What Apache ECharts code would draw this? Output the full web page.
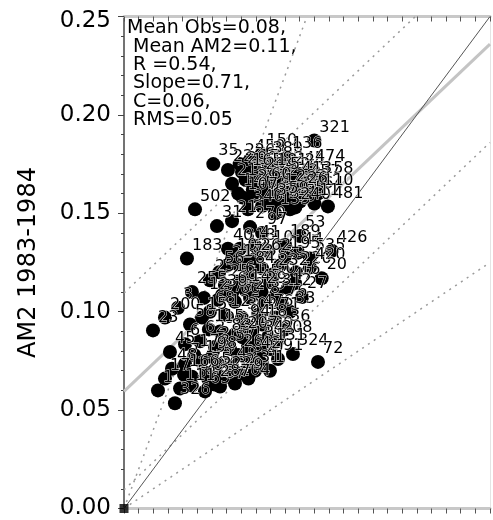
<!DOCTYPE html>
<html>
<head>
<meta charset="utf-8">
<script src="https://cdn.jsdelivr.net/npm/echarts@6/dist/echarts.min.js"></script>
<style>html,body{margin:0;padding:0;background:#fff}#c{width:493px;height:520px}</style>
</head>
<body>
<div id="c"></div>
<script>
// Observed (x) values, model AM2 (y) values, station ids
const obs = [0.130,0.094,0.086,0.079,0.061,0.071,0.089,0.098,0.105,0.113,0.120,0.127,0.083,0.0915,0.0997,0.1086,0.1175,0.1236,0.1325,0.078,0.0874,0.0963,0.1052,0.1148,0.1257,0.1393,0.0943,0.0847,0.1134,
0.0485,0.0635,0.0738,0.0861,0.1031,0.0943,0.1202,0.0792,0.0895,0.0984,0.110,0.1189,0.142,0.127,0.043,
0.0827,0.0704,0.0943,0.1066,0.1175,0.127,0.135,0.0587,0.069,0.0792,0.0895,0.0997,0.112,0.1216,0.1168,0.0464,0.0546,0.0642,0.0758,0.0861,0.0963,0.1079,0.0587,0.069,0.0806,0.0915,0.1031,0.1134,
0.0369,0.028,0.0198,0.0451,0.0533,0.0656,0.0758,0.0874,0.0984,0.110,0.1045,0.0314,0.0417,0.0519,0.0622,0.0724,0.0847,0.0943,0.1154,0.1325,0.0417,0.0519,0.0642,0.0738,0.0847,0.0943,0.1052,0.0328,0.0464,0.0574,0.0669,0.0792,0.0895,0.0997,0.0232,0.0348,0.0464,0.0553,0.0383,0.028,0.0656,0.0758,
0.0806,0.1113,0.0738,0.1202,0.1325,0.071,0.067,0.0827,0.0943,0.0738,
0.084,0.093,0.101,0.110,0.118,0.088,0.097,0.106,0.114,0.122,0.081,0.101,0.109,0.117,0.130,
0.078,0.086,0.102,0.074,0.083,0.094,0.104,0.065,0.110,0.090,
0.058,0.070,0.081,0.092,0.048,0.060,0.078,0.090,0.100,0.056,0.070,0.085,0.041,0.062];
const am2 = [0.187,0.180,0.177,0.175,0.175,0.172,0.172,0.176,0.1735,0.171,0.170,0.172,0.167,0.165,0.167,0.165,0.1635,0.1645,0.166,0.160,0.1585,0.160,0.157,0.158,0.1585,0.1535,0.1535,0.152,0.152,
0.152,0.1435,0.146,0.143,0.150,0.140,0.1385,0.132,0.1335,0.131,0.134,0.130,0.131,0.127,0.127,
0.125,0.1235,0.122,0.1235,0.120,0.1225,0.117,0.116,0.1135,0.115,0.1135,0.115,0.112,0.1075,0.1145,0.110,0.107,0.106,0.105,0.107,0.105,0.1035,0.100,0.0985,0.097,0.0985,0.097,0.100,
0.102,0.097,0.0905,0.0935,0.097,0.090,0.0885,0.090,0.087,0.091,0.085,0.0795,0.0835,0.085,0.082,0.081,0.082,0.080,0.0785,0.0745,0.0735,0.075,0.0735,0.072,0.075,0.0735,0.076,0.071,0.067,0.066,0.067,0.0685,0.070,0.070,0.060,0.0535,0.0625,0.0595,0.061,0.066,0.062,0.0635,
0.171,0.1785,0.165,0.156,0.160,0.132,0.1085,0.0935,0.0935,0.127,
0.170,0.168,0.170,0.168,0.166,0.162,0.163,0.160,0.162,0.161,0.158,0.155,0.156,0.153,0.155,
0.124,0.120,0.119,0.110,0.111,0.110,0.109,0.120,0.128,0.127,
0.091,0.086,0.087,0.085,0.078,0.077,0.078,0.077,0.081,0.069,0.067,0.066,0.068,0.063];
const ids = ['321','150','459','226','35','22','151','389','88','245','24','474','306','117','63','212','93','457','158','140','402','77','301','19','364','481','129','340','86',
'502','31','211','270','133','97','53','318','41','10','189','44','426','535','183',
'79','219','28','39','220','420','20','251','25','61','150','90','47','27','16','255','12','378','66','205','8','76','68','125','302','476','71','33',
'3','200','23','58','15','99','241','148','89','36','208','45','6','62','264','57','119','14','324','72','7','130','5','49','310','4','91','48','120','81','43','2','31','1','1','326','54','65','111','17','87','204',
'290','136','215','95','110','40','38','94','18','102',
'165','234','181','52','413','297','60','142','283','26','107','371','59','240','11',
'173','84','232','69','145','29','312','56','195','262',
'115','83','207','34','178','98','268','42','131','75','229','9','166','287'];

// Reference lines: [obs, am2] end points
const oneToOne = [[0,0],[0.25,0.25]];
const regression = [[0,0.0595],[0.25,0.236]];
const regPlusRms = [[0,0.1095],[0.199,0.25]];
const regMinusRms = [[0,0.0095],[0.25,0.186]];
const twoToOne = [[0,0],[0.125,0.25]];
const oneToTwo = [[0,0],[0.25,0.125]];

const yTicks = [0,0.05,0.10,0.15,0.20,0.25];
const statsLines = ['Mean Obs=0.08,',' Mean AM2=0.11,',' R =0.54,',' Slope=0.71,',' C=0.06,',' RMS=0.05'];

const FONT = 'DejaVu Sans';
const pts = obs.map((v,i)=>({value:[v,am2[i]], name:ids[i]}));
const dotted = (d)=>({type:'line', data:d, symbol:'none', silent:true, z:1,
  lineStyle:{color:'#9a9a9a', width:1.5, type:[2,5]}});

const chart = echarts.init(document.getElementById('c'), null, {renderer:'canvas'});
chart.setOption({
  animation:false,
  backgroundColor:'#fff',
  grid:{left:124, right:3, top:12, bottom:7, containLabel:false},
  xAxis:[{
    type:'value', position:'bottom', min:0, max:0.25, interval:0.01,
    axisLine:{show:true, onZero:false, lineStyle:{color:'#c8c8c8', width:3}},
    axisTick:{show:true, inside:false, length:5, lineStyle:{color:'#555', width:1}},
    axisLabel:{show:false}, splitLine:{show:false}
  },{
    type:'value', position:'top', min:0, max:0.25, interval:0.01,
    axisLine:{show:true, onZero:false, lineStyle:{color:'#c8c8c8', width:3}},
    axisTick:{show:true, inside:true, length:5, lineStyle:{color:'#555', width:1}},
    axisLabel:{show:false}, splitLine:{show:false}
  }],
  yAxis:[{
    type:'value', position:'left', min:0, max:0.25, interval:0.05,
    name:'AM2 1983-1984', nameLocation:'middle', nameRotate:90, nameGap:83,
    nameTextStyle:{fontFamily:FONT, fontSize:24, color:'#000'},
    axisLine:{show:true, onZero:false, lineStyle:{color:'#444', width:1.5}},
    axisTick:{show:true, inside:false, length:6, lineStyle:{color:'#444'}},
    minorTick:{show:true, splitNumber:5, length:3, lineStyle:{color:'#444'}},
    axisLabel:{show:true, margin:13, fontFamily:FONT, fontSize:23, color:'#000', lineHeight:10,
      formatter:(v)=>{const t=yTicks.find(x=>Math.abs(x-v)<1e-9); if(t===undefined) return '';
        return t===0.25 ? '\n'+t.toFixed(2) : t.toFixed(2);}},
    splitLine:{show:false}
  },{
    type:'value', position:'right', min:0, max:0.25,
    axisLine:{show:true, onZero:false, lineStyle:{color:'#e4e4e4', width:1}},
    axisTick:{show:false}, axisLabel:{show:false}, splitLine:{show:false}
  }],
  series:[
    dotted(regPlusRms), dotted(regMinusRms), dotted(twoToOne), dotted(oneToTwo),
    {type:'line', data:regression, symbol:'none', silent:true, z:1,
      lineStyle:{color:'#c4c4c4', width:3}},
    {type:'line', data:oneToOne, symbol:'none', silent:true, z:1,
      lineStyle:{color:'#555', width:1}},
    {type:'scatter', data:pts, symbol:'circle', symbolSize:14, z:3,
      itemStyle:{color:'#000', opacity:1},
      label:{show:true, formatter:'{b}', position:[12,-14], fontFamily:FONT, fontSize:16,
        color:'#000', textBorderColor:'#fff', textBorderWidth:0.8}},
    {type:'scatter', data:[[0,0]], symbol:'rect', symbolSize:9, z:4, clip:false,
      itemStyle:{color:'#000'}}
  ],
  graphic:[{
    type:'text', left:127, top:19, z:10,
    style:{text:statsLines.join('\n'), fontFamily:FONT, fontSize:19, lineHeight:18.3, fill:'#000'}
  }]
});
</script>
</body>
</html>
